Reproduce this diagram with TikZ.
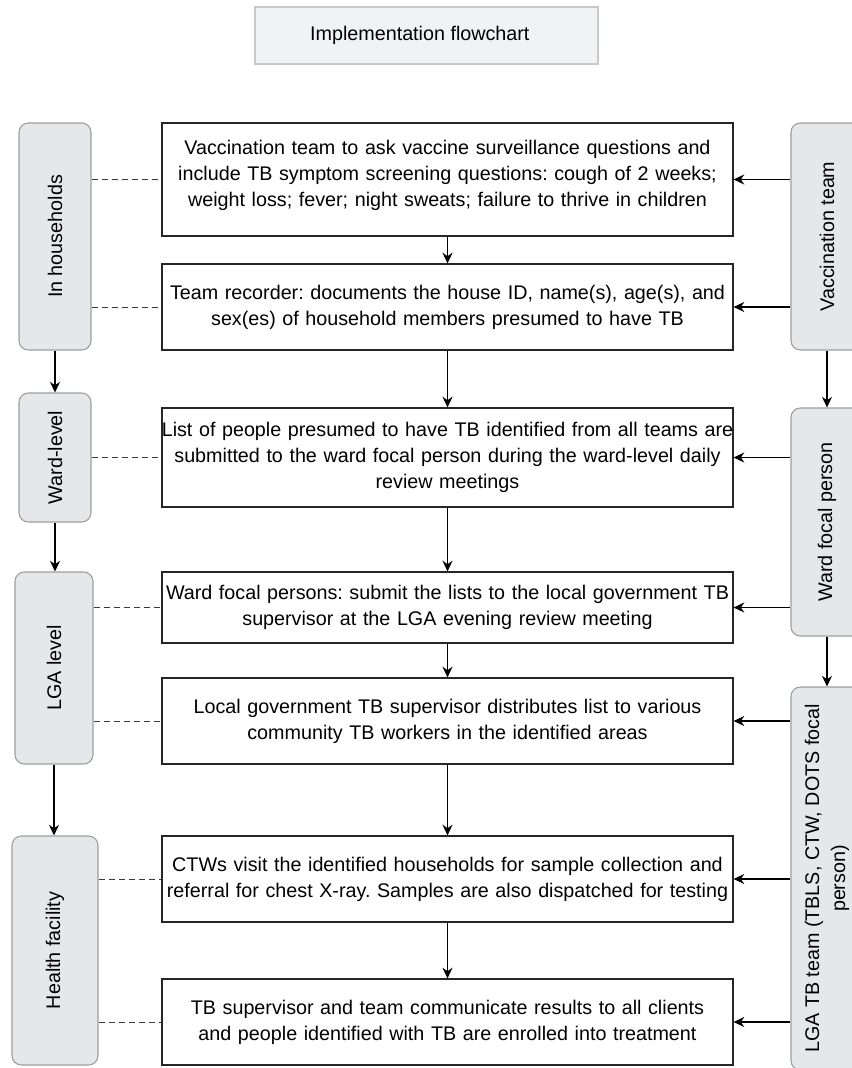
\documentclass[tikz,border=0pt]{standalone}
\usepackage{fontspec}
\setmainfont{Liberation Sans}
\frenchspacing
\usetikzlibrary{arrows.meta}
\definecolor{boxgray}{HTML}{E6E7E9}
\definecolor{boxedge}{HTML}{9E9E9E}
\definecolor{titlegray}{HTML}{F1F2F4}
\definecolor{titleedge}{HTML}{C8C8C8}
\definecolor{dashgray}{HTML}{3A3A3A}

\begin{document}
\begin{tikzpicture}[x=0.75pt,y=-0.75pt,font=\fontsize{14.8}{19.5}\selectfont,
    >={Stealth[length=8pt,width=7.5pt]},
    step node/.style={rectangle,draw=black!85,line width=0.9pt,text width=440.25pt,inner xsep=-6pt,inner ysep=0pt,align=center},
    side node/.style={rectangle,rounded corners=7pt,draw=boxedge,fill=boxgray,line width=0.8pt,inner sep=0pt},
    title node/.style={rectangle,draw=titleedge,fill=titlegray,line width=0.8pt,minimum width=257.25pt,minimum height=42.75pt}]
                \path[use as bounding box,clip] (0,0) rectangle (852,1068);

                \node[title node] (T) at (426.5,35.5) {Implementation flowchart\hspace*{10pt}};

                % steps
                \node[step node,minimum height=84.75pt] (1) at (447.5,179.5) {Vaccination team to ask vaccine surveillance questions and\\include TB symptom screening questions: cough of 2 weeks;\\weight loss; fever; night sweats; failure to thrive in children\\[-10pt]~};
                \node[step node,minimum height=64.5pt] (2) at (447.5,307) {Team recorder: documents the house ID, name(s), age(s), and\\sex(es) of household members presumed to have TB};
                \node[step node,minimum height=74.25pt] (3) at (447.5,457.5) {List of people presumed to have TB identified from all teams are\\submitted to the ward focal person during the ward-level daily\\review meetings};
                \node[step node,minimum height=53.25pt] (4) at (447.5,607.5) {Ward focal persons: submit the lists to the local government TB\\supervisor at the LGA evening review meeting};
                \node[step node,minimum height=64.5pt] (5) at (447.5,721) {Local government TB supervisor distributes list to various\\community TB workers in the identified areas};
                \node[step node,minimum height=64.5pt] (6) at (447.5,879) {CTWs visit the identified households for sample collection and\\referral for chest X-ray. Samples are also dispatched for testing};
                \node[step node,minimum height=64.5pt] (7) at (447.5,1022) {TB supervisor and team communicate results to all clients\\and people identified with TB are enrolled into treatment};

                % levels
                \node[side node,minimum width=54pt,minimum height=170.25pt] (a) at (55,236.5) {\rotatebox{90}{In households}};
                \node[side node,minimum width=54pt,minimum height=96.75pt] (b) at (55,457.5) {\rotatebox{90}{Ward-level}};
                \node[side node,minimum width=58.5pt,minimum height=144pt] (c) at (54,668) {\rotatebox{90}{LGA level}};
                \node[side node,minimum width=64.5pt,minimum height=171.75pt] (d) at (55,950.5) {\rotatebox{90}{Health facility}};

                % teams
                \node[side node,minimum width=54pt,minimum height=170.25pt] (e) at (827,236.5) {\rotatebox{90}{Vaccination team}};
                \node[side node,minimum width=54pt,minimum height=171pt] (f) at (827,522) {\rotatebox{90}{Ward focal person}};
                \node[side node,minimum width=54pt,minimum height=287.25pt] (g) at (827,878.5) {\rotatebox{90}{\begin{tabular}{@{}c@{}}LGA TB team (TBLS, CTW, DOTS focal\\person)\end{tabular}}};

                \path[->,line width=0.9pt]
                    (1) edge (2)
                    (2) edge (3)
                    (3) edge (4)
                    (4) edge (5)
                    (5) edge (6)
                    (6) edge (7)
                    (a) edge (b)
                    (b.south) edge (b.south |- c.north)
                    (c.south) edge (c.south |- d.north)
                    (e) edge (f)
                    (f) edge (g)
                    (1.east -| e.west) edge (1.east)
                    (2.east -| e.west) edge (2.east)
                    (3.east -| f.west) edge (3.east)
                    (4.east -| f.west) edge (4.east)
                    (5.east -| g.west) edge (5.east)
                    (6.east -| g.west) edge (6.east)
                    (7.east -| g.west) edge (7.east)
                    ;

                \path[draw=dashgray,line width=0.75pt,dash pattern=on 4.5pt off 3pt]
                    (a.east |- 1.west) edge (1.west)
                    (a.east |- 2.west) edge (2.west)
                    (b.east |- 3.west) edge (3.west)
                    (c.east |- 4.west) edge (4.west)
                    (c.east |- 5.west) edge (5.west)
                    (d.east |- 6.west) edge (6.west)
                    (d.east |- 7.west) edge (7.west)
                    ;
            \end{tikzpicture}
\end{document}
